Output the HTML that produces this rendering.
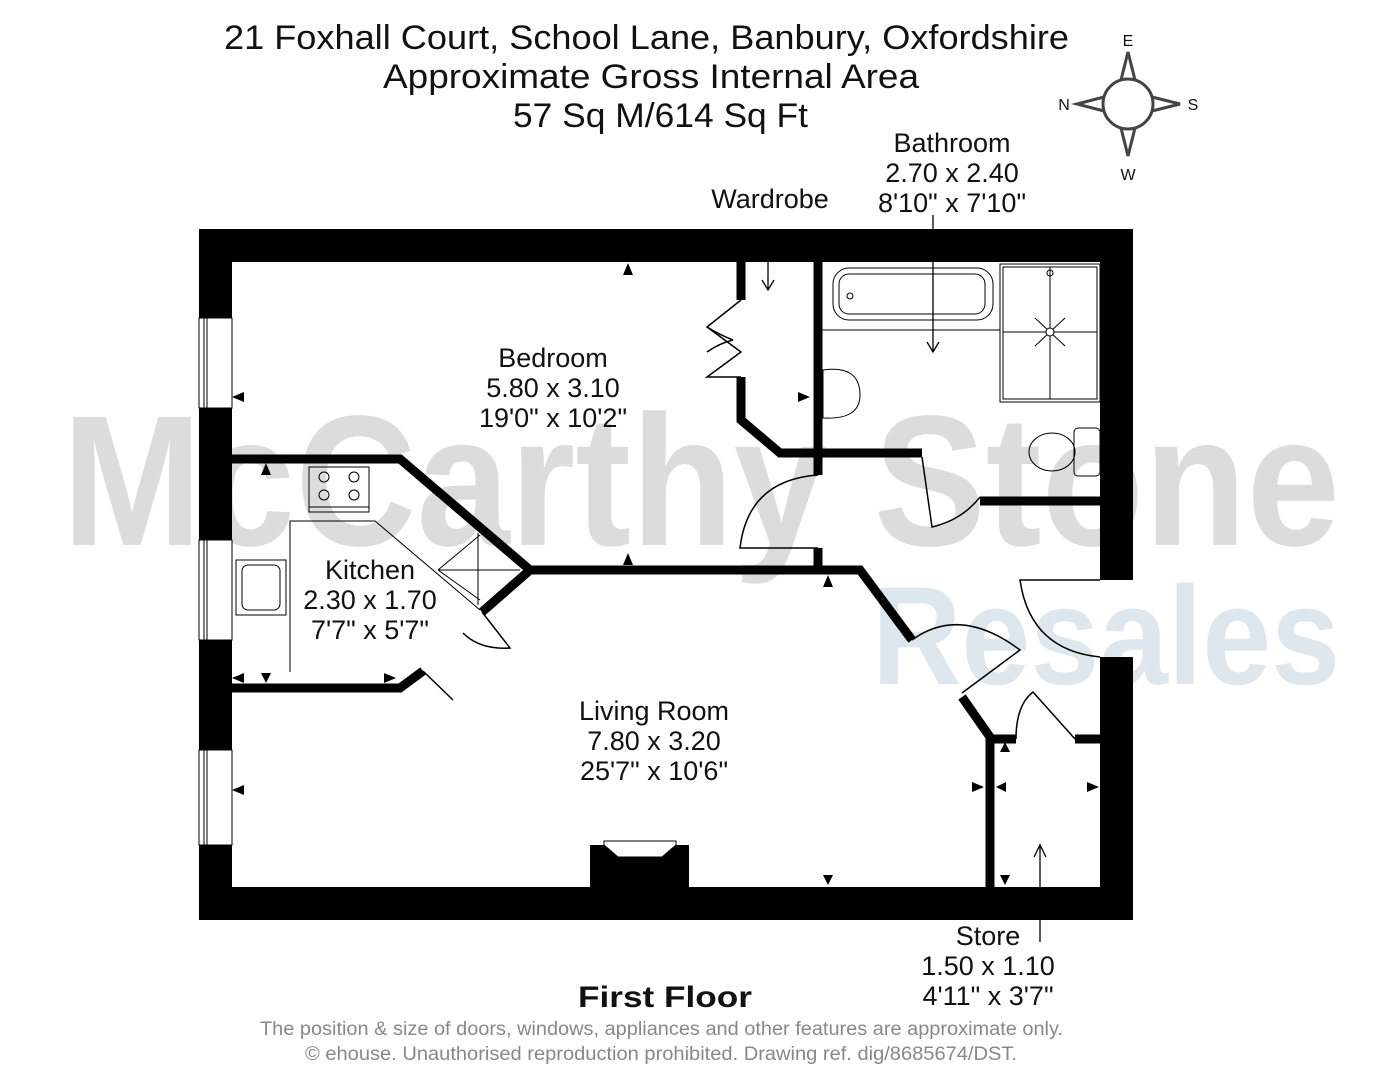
<!DOCTYPE html>
<html><head><meta charset="utf-8"><style>
html,body{margin:0;padding:0;background:#fff}
svg{display:block}
text{font-family:"Liberation Sans","DejaVu Sans",sans-serif}
</style></head><body>
<svg width="1398" height="1080" viewBox="0 0 1398 1080" xmlns="http://www.w3.org/2000/svg">
<rect width="1398" height="1080" fill="#fff"/>
<!-- watermark -->
<text x="62" y="545" font-size="186" font-weight="bold" fill="#dcdcdc" textLength="1278" lengthAdjust="spacingAndGlyphs">McCarthy Stone</text>
<text x="872" y="684" font-size="140" font-weight="bold" fill="#dde7ed" textLength="468" lengthAdjust="spacingAndGlyphs">Resales</text>

<!-- titles -->
<g font-size="34" fill="#111">
<text x="224" y="49" textLength="845" lengthAdjust="spacingAndGlyphs">21 Foxhall Court, School Lane, Banbury, Oxfordshire</text>
<text x="383" y="88" textLength="536" lengthAdjust="spacingAndGlyphs">Approximate Gross Internal Area</text>
<text x="513" y="127" textLength="295" lengthAdjust="spacingAndGlyphs">57 Sq M/614 Sq Ft</text>
</g>
<!-- compass -->
<g stroke="#444" stroke-width="3" fill="none">
<circle cx="1128" cy="104" r="25"/>
<path d="M1121,80 L1128,52 L1135,80 M1121,128 L1128,156 L1135,128 M1104,97 L1077,104 L1104,111 M1152,97 L1180,104 L1152,111"/>
</g>
<g font-size="16" fill="#111" text-anchor="middle">
<text x="1128" y="46">E</text><text x="1128" y="180">W</text>
<text x="1064" y="110">N</text><text x="1193" y="110">S</text>
</g>

<!-- outer walls -->
<g fill="#000">
<rect x="199" y="229" width="934" height="33"/>
<rect x="199" y="887" width="934" height="33"/>
<rect x="199" y="229" width="33" height="691"/>
<rect x="1100" y="229" width="33" height="351"/>
<rect x="1100" y="657" width="33" height="263"/>
</g>
<!-- windows -->
<g fill="#fff" stroke="#000" stroke-width="1">
<rect x="199" y="318" width="33" height="90"/>
<rect x="199" y="540" width="33" height="100"/>
<rect x="199" y="750" width="33" height="95"/>
</g>
<g stroke="#000" stroke-width="1">
<line x1="204" y1="318" x2="204" y2="408"/><line x1="207" y1="318" x2="207" y2="408"/>
<line x1="204" y1="540" x2="204" y2="640"/><line x1="207" y1="540" x2="207" y2="640"/>
<line x1="204" y1="750" x2="204" y2="845"/><line x1="207" y1="750" x2="207" y2="845"/>
</g>
<!-- fireplace -->
<rect x="590" y="845" width="99" height="45" fill="#000"/>
<path d="M604,841 L676,841 L676,845 L662,857 L618,857 L604,845 Z" fill="#fff" stroke="#000" stroke-width="1"/>

<!-- interior thick walls -->
<g stroke="#000" stroke-width="9" fill="none" stroke-linejoin="miter">
<path d="M741,262 V300"/>
<path d="M741,377 V420 L780,453 H922"/>
<path d="M818,262 V475"/>
<path d="M818,548 V570"/>
<path d="M980,501 H1100"/>
<path d="M232,459 H400 L530,570 L482,612"/>
<path d="M530,570 H860 L912,640"/>
<path d="M232,688 H400 L423,671"/>
<path d="M962,697 L990,737 V887"/>
<path d="M986,739 H1016"/>
<path d="M1075,739 H1100"/>
</g>
<!-- doors -->
<g stroke="#000" stroke-width="1.5" fill="none">
<path d="M741,300 L707,327 L741,352 L707,377 L741,377"/>
<path d="M707,327 Q720,335 733,340 M707,352 Q720,343 733,340"/>
<path d="M922,457 L932,527 Q962,520 980,497"/>
<path d="M818,475 Q748,480 740,548 H818"/>
<path d="M1100,580 H1020 Q1030,650 1100,657"/>
<path d="M912,640 Q960,605 1020,650 L962,693"/>
<path d="M1016,739 Q1016,705 1033,692 L1075,739"/>
<path d="M423,671 L453,700"/>
<path d="M482,612 L510,648 Q480,650 463,633"/>
</g>
<!-- kitchen fittings -->
<g stroke="#000" stroke-width="1" fill="none">
<path d="M290,672 V521 H375 L480,610"/>
<rect x="309" y="467" width="60" height="45"/>
<line x1="309" y1="507" x2="369" y2="507"/>
<circle cx="324" cy="477" r="5"/><circle cx="354" cy="477" r="5"/>
<circle cx="324" cy="495" r="5"/><circle cx="354" cy="495" r="5"/>
<rect x="236" y="560" width="50" height="55"/>
<rect x="242" y="565" width="38" height="45" rx="6"/>
<path d="M438,570 L480,535 M438,570 L480,600 M478,533 V605 M438,570 H520"/>
<!-- bath -->
<rect x="833" y="268" width="160" height="52" rx="16"/>
<rect x="839" y="274" width="146" height="40" rx="10"/>
<line x1="822" y1="330" x2="1000" y2="330"/>
<circle cx="850" cy="296" r="3"/>
<rect x="1000" y="264" width="100" height="138"/>
<rect x="1003" y="267" width="94" height="132"/>
<line x1="1050" y1="267" x2="1050" y2="399"/><line x1="1003" y1="332" x2="1097" y2="332"/>
<path d="M1035,318 L1065,346 M1065,318 L1035,346"/><circle cx="1050" cy="332" r="4" fill="#fff"/>
<circle cx="1050" cy="273" r="3"/>
<path d="M823,370 Q860,365 860,395 Q860,420 823,418 Z"/>
<ellipse cx="1052" cy="452" rx="23" ry="19"/>
<rect x="1074" y="428" width="26" height="48" rx="4"/>
</g>
<!-- thin arrows -->
<g stroke="#000" stroke-width="1.3" fill="none">
<path d="M768,262 V290 M762,280 L768,290 L774,280"/>
<path d="M933,215 V352 M927,342 L933,352 L939,342"/>
<path d="M1040,942 V845 M1034,857 L1040,845 L1046,857"/>
</g>
<!-- small triangles -->
<g fill="#000">
<path d="M623,275 L633,275 L628,263Z"/>
<path d="M232,397 L244,392 L244,402Z"/>
<path d="M810,397 L798,392 L798,402Z"/>
<path d="M261,475 L271,475 L266,463Z"/>
<path d="M623,565 L633,565 L628,553Z"/>
<path d="M823,587 L833,587 L828,575Z"/>
<path d="M232,678 L244,673 L244,683Z"/>
<path d="M261,673 L271,673 L266,683Z"/>
<path d="M396,678 L384,673 L384,683Z"/>
<path d="M232,790 L244,785 L244,795Z"/>
<path d="M823,875 L833,875 L828,885Z"/>
<path d="M984,787 L972,782 L972,792Z"/>
<path d="M996,787 L1006,782 L1006,792Z"/>
<path d="M1000,752 L1010,752 L1005,742Z"/>
<path d="M1000,875 L1010,875 L1005,885Z"/>
<path d="M1099,787 L1087,782 L1087,792Z"/>
</g>

<!-- room labels -->
<g font-size="27" fill="#111" text-anchor="middle">
<text x="553" y="367">Bedroom</text><text x="553" y="397">5.80 x 3.10</text><text x="553" y="427">19'0" x 10'2"</text>
<text x="370" y="579">Kitchen</text><text x="370" y="609">2.30 x 1.70</text><text x="370" y="639">7'7" x 5'7"</text>
<text x="654" y="720">Living Room</text><text x="654" y="750">7.80 x 3.20</text><text x="654" y="780">25'7" x 10'6"</text>
<text x="952" y="152">Bathroom</text><text x="952" y="182">2.70 x 2.40</text><text x="952" y="212">8'10" x 7'10"</text>
<text x="770" y="208">Wardrobe</text>
<text x="988" y="945">Store</text><text x="988" y="975">1.50 x 1.10</text><text x="988" y="1005">4'11" x 3'7"</text>
</g>
<text x="578" y="1007" font-size="30" font-weight="bold" fill="#111" textLength="174" lengthAdjust="spacingAndGlyphs">First Floor</text>
<g font-size="19" fill="#888">
<text x="260" y="1035" textLength="803" lengthAdjust="spacingAndGlyphs">The position &amp; size of doors, windows, appliances and other features are approximate only.</text>
<text x="305" y="1060" textLength="712" lengthAdjust="spacingAndGlyphs">© ehouse. Unauthorised reproduction prohibited. Drawing ref. dig/8685674/DST.</text>
</g>
</svg>
</body></html>
